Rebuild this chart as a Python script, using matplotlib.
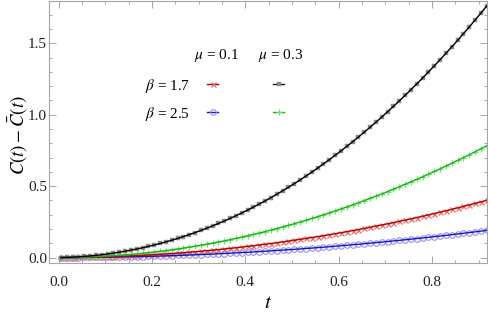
import numpy as np
import matplotlib
matplotlib.use("Agg")
import matplotlib.pyplot as plt
from matplotlib.ticker import MultipleLocator, FixedLocator
from matplotlib.lines import Line2D

plt.rcParams['mathtext.fontset'] = 'stix'
plt.rcParams['font.family'] = ['Liberation Serif', 'DejaVu Serif']

# sample times
t = np.round(0.005 + 0.0125 * np.arange(74), 4)

# beta=1.7, mu=0.3 (black)
black = [0.0003, 0.0014, 0.0031, 0.0054, 0.0082, 0.0117, 0.0157, 0.0202, 0.0254, 0.0311,
         0.0375, 0.0444, 0.0520, 0.0601, 0.0688, 0.0782, 0.0881, 0.0987, 0.1099, 0.1217,
         0.1341, 0.1472, 0.1608, 0.1751, 0.1901, 0.2056, 0.2219, 0.2387, 0.2562, 0.2744,
         0.2932, 0.3126, 0.3328, 0.3535, 0.3750, 0.3971, 0.4199, 0.4433, 0.4675, 0.4923,
         0.5178, 0.5440, 0.5708, 0.5984, 0.6266, 0.6556, 0.6852, 0.7156, 0.7467, 0.7784,
         0.8109, 0.8441, 0.8781, 0.9127, 0.9481, 0.9842, 1.0210, 1.0586, 1.0969, 1.1359,
         1.1757, 1.2162, 1.2575, 1.2995, 1.3423, 1.3859, 1.4302, 1.4753, 1.5211, 1.5677,
         1.6151, 1.6633, 1.7122, 1.7619]
# beta=2.5, mu=0.3 (green)
green = [0.0000, 0.0003, 0.0008, 0.0017, 0.0028, 0.0042, 0.0060, 0.0080, 0.0103, 0.0128,
         0.0157, 0.0189, 0.0223, 0.0261, 0.0301, 0.0345, 0.0391, 0.0440, 0.0492, 0.0547,
         0.0605, 0.0665, 0.0729, 0.0796, 0.0865, 0.0937, 0.1013, 0.1091, 0.1172, 0.1256,
         0.1343, 0.1433, 0.1525, 0.1621, 0.1720, 0.1821, 0.1925, 0.2033, 0.2143, 0.2256,
         0.2372, 0.2491, 0.2612, 0.2737, 0.2865, 0.2995, 0.3129, 0.3265, 0.3404, 0.3546,
         0.3691, 0.3839, 0.3990, 0.4144, 0.4300, 0.4460, 0.4622, 0.4788, 0.4956, 0.5127,
         0.5301, 0.5478, 0.5658, 0.5841, 0.6027, 0.6215, 0.6407, 0.6601, 0.6799, 0.6999,
         0.7202, 0.7408, 0.7617, 0.7829]
# beta=1.7, mu=0.1 (red)
red = [0.0000, 0.0001, 0.0004, 0.0009, 0.0014, 0.0022, 0.0030, 0.0041, 0.0052, 0.0066,
       0.0080, 0.0097, 0.0114, 0.0134, 0.0154, 0.0176, 0.0200, 0.0225, 0.0252, 0.0280,
       0.0310, 0.0341, 0.0373, 0.0407, 0.0443, 0.0480, 0.0518, 0.0558, 0.0600, 0.0643,
       0.0687, 0.0733, 0.0781, 0.0830, 0.0880, 0.0932, 0.0985, 0.1040, 0.1097, 0.1155,
       0.1214, 0.1275, 0.1337, 0.1401, 0.1466, 0.1533, 0.1601, 0.1671, 0.1742, 0.1815,
       0.1889, 0.1965, 0.2042, 0.2121, 0.2201, 0.2283, 0.2366, 0.2450, 0.2537, 0.2624,
       0.2713, 0.2804, 0.2896, 0.2990, 0.3085, 0.3181, 0.3279, 0.3379, 0.3480, 0.3582,
       0.3686, 0.3792, 0.3899, 0.4007]
# beta=2.5, mu=0.1 (blue)
blue = [0.0000, 0.0001, 0.0002, 0.0004, 0.0007, 0.0010, 0.0014, 0.0019, 0.0025, 0.0031,
        0.0038, 0.0046, 0.0054, 0.0063, 0.0073, 0.0084, 0.0095, 0.0107, 0.0120, 0.0133,
        0.0147, 0.0162, 0.0177, 0.0193, 0.0210, 0.0228, 0.0246, 0.0265, 0.0285, 0.0305,
        0.0326, 0.0348, 0.0371, 0.0394, 0.0418, 0.0443, 0.0468, 0.0494, 0.0521, 0.0548,
        0.0576, 0.0605, 0.0635, 0.0665, 0.0696, 0.0728, 0.0760, 0.0793, 0.0827, 0.0862,
        0.0897, 0.0933, 0.0970, 0.1007, 0.1045, 0.1084, 0.1123, 0.1163, 0.1204, 0.1246,
        0.1288, 0.1331, 0.1375, 0.1419, 0.1465, 0.1510, 0.1557, 0.1604, 0.1652, 0.1701,
        0.1750, 0.1800, 0.1851, 0.1902]

x_ticks = [0.0, 0.2, 0.4, 0.6, 0.8]
x_ticklabels = ["0.0", "0.2", "0.4", "0.6", "0.8"]
y_ticks = [0.0, 0.5, 1.0, 1.5]
y_ticklabels = ["0.0", "0.5", "1.0", "1.5"]

W, H = 488, 320
fig = plt.figure(figsize=(W / 100, H / 100), dpi=100)
ax = fig.add_axes([49 / W, 1 - 263 / H, (487 - 49) / W, (263 - 0.5) / H])

styles = [
    (blue, '#1414c0', dict(marker='o', ms=4.0, mfc='none', mec='#9090f0', mew=0.8)),
    (red, '#b40000', dict(marker='x', ms=3.6, mec='#e06a6a', mew=0.9)),
    (green, '#10b810', dict(marker='+', ms=4.2, mec='#7ada7a', mew=0.9)),
    (black, '#000000', dict(marker='s', ms=2.6, mfc='#8a8a8a', mec='#8a8a8a', mew=0.3)),
]
for vals, lc, mk in styles:
    ax.plot(t, vals, ls='none', zorder=2, **mk)
    ax.plot(t, vals, color=lc, lw=1.0, zorder=3)

ax.set_xlim(-0.0206, 0.918)
ax.set_ylim(-0.038, 1.80)
ax.xaxis.set_major_locator(FixedLocator(x_ticks))
ax.set_xticklabels(x_ticklabels)
ax.yaxis.set_major_locator(FixedLocator(y_ticks))
ax.set_yticklabels(y_ticklabels)
ax.xaxis.set_minor_locator(MultipleLocator(0.05))
ax.yaxis.set_minor_locator(MultipleLocator(0.1))
gray = '#a6a6a6'
for sp in ax.spines.values():
    sp.set_color(gray)
    sp.set_linewidth(0.8)
ax.tick_params(which='both', direction='in', top=True, right=True, color=gray,
               labelsize=11, labelcolor='#222222', width=0.7)
ax.tick_params(which='major', length=5)
ax.tick_params(which='minor', length=2.5)
ax.tick_params(axis='x', which='major', pad=9)
ax.tick_params(axis='y', which='major', pad=1.5)

fig.text(268 / W, 1 - 303 / H, r'$t$', fontsize=15, ha='center', va='center')
fig.text(18 / W, 1 - 135 / H, r'$C(t)-\bar{C}(t)$', fontsize=13.5, ha='center',
         va='center', rotation=90)

# legend
fig.text(216 / W, 1 - 56 / H, r'$\mu$ = 0.1', fontsize=11, ha='center', va='center')
fig.text(281 / W, 1 - 56 / H, r'$\mu$ = 0.3', fontsize=11, ha='center', va='center')
fig.text(190 / W, 1 - 86 / H, r'$\beta$ = 1.7', fontsize=11, ha='right', va='center')
fig.text(190 / W, 1 - 114 / H, r'$\beta$ = 2.5', fontsize=11, ha='right', va='center')
leg = [(212.7, 84.3, 1), (278.7, 84.3, 3), (212.7, 111.7, 0), (278.7, 111.7, 2)]
for px, py, i in leg:
    vals, lc, mk = styles[i]
    fx, fy = px / W, 1 - py / H
    fig.add_artist(Line2D([fx - 5.5 / W, fx + 5.5 / W], [fy, fy], color=lc, lw=1.0))
    fig.add_artist(Line2D([fx], [fy], ls='none', **mk))

fig.savefig('out.png', dpi=100)
